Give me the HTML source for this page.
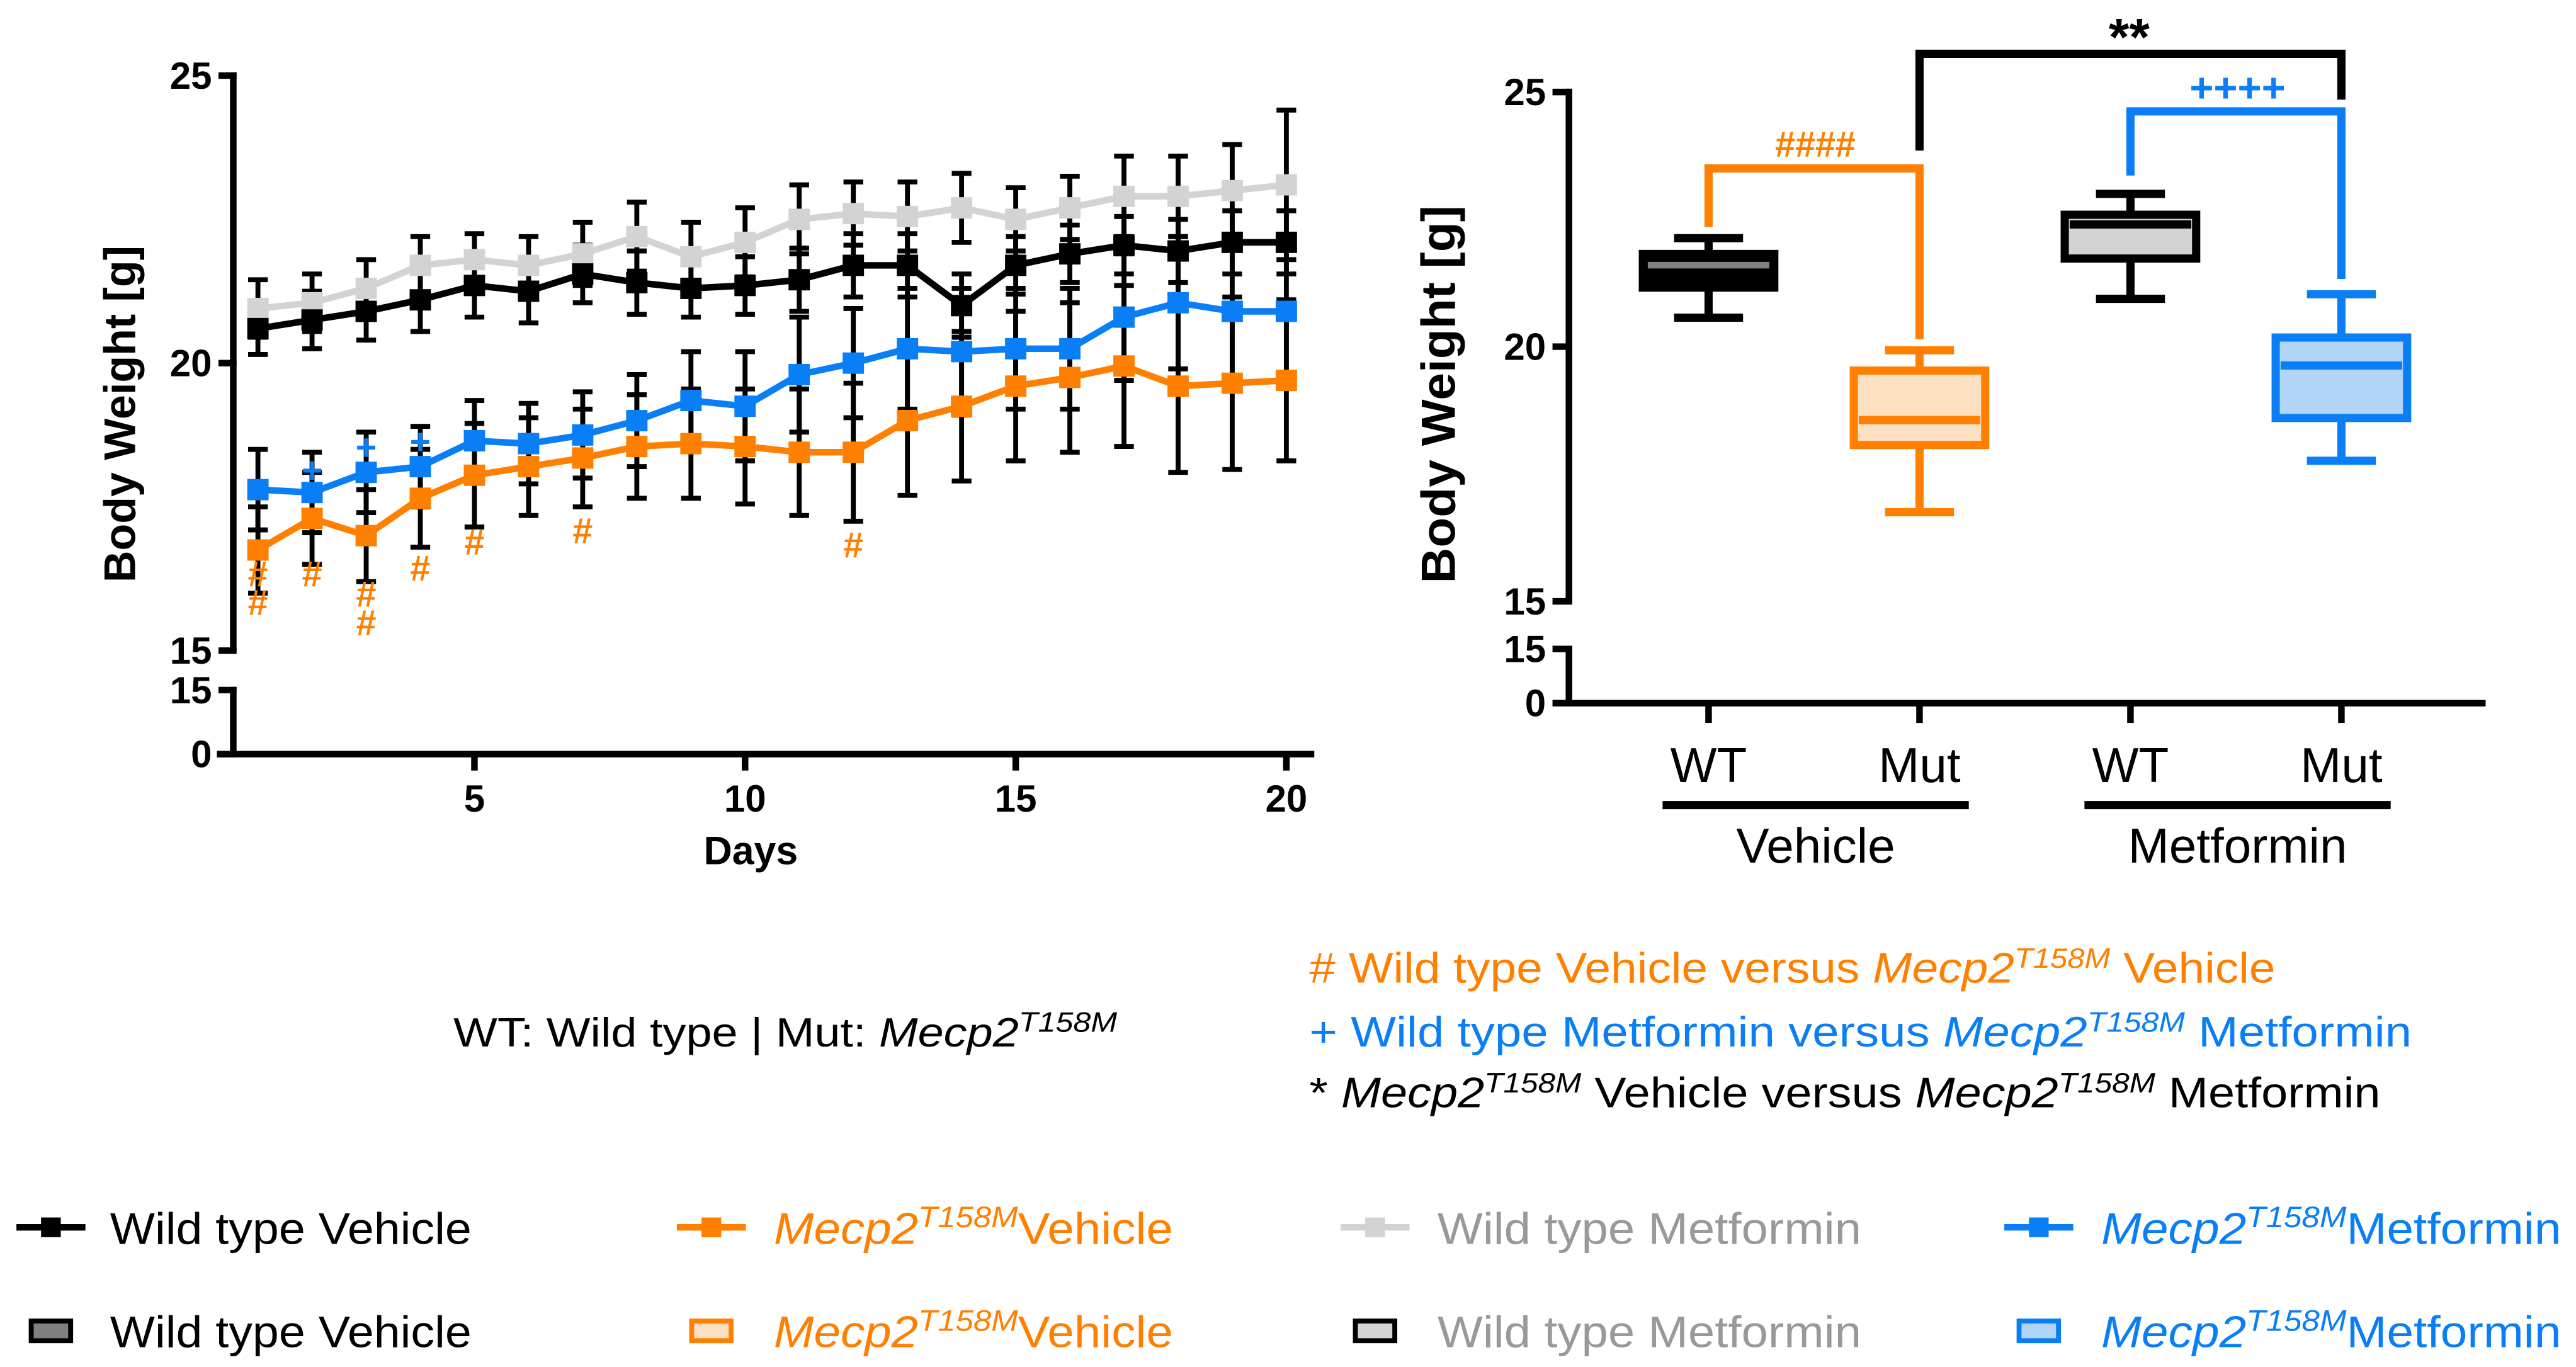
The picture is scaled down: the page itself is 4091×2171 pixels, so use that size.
<!DOCTYPE html>
<html><head><meta charset="utf-8"><style>
html,body{margin:0;padding:0;background:#fff;}
svg{display:block;}
text{font-family:"Liberation Sans",sans-serif;}
.nar{font-family:"Liberation Sans Narrow","Liberation Sans",sans-serif;}
</style></head><body>
<svg id="fig" width="4091" height="2171" viewBox="0 0 1568 832" preserveAspectRatio="none" xmlns="http://www.w3.org/2000/svg">
<g id="left"></g>
<g id="right"></g>
<text x="75" y="252" transform="rotate(-90 75 252)" text-anchor="middle" dominant-baseline="middle" font-weight="bold" font-size="27" textLength="205" lengthAdjust="spacingAndGlyphs">Body Weight [g]</text>
<text x="457" y="526" text-anchor="middle" font-weight="bold" font-size="24" class="nar">Days</text>
<text x="878" y="240" transform="rotate(-90 878 240)" text-anchor="middle" dominant-baseline="middle" font-weight="bold" font-size="29" textLength="230" lengthAdjust="spacingAndGlyphs">Body Weight [g]</text>

<text x="276" y="637" font-size="25" textLength="404" lengthAdjust="spacingAndGlyphs">WT: Wild type | Mut: <tspan font-style="italic">Mecp2</tspan><tspan font-style="italic" font-size="17" dy="-9">T158M</tspan></text>

<text x="797" y="598" font-size="26" fill="#ff8000" textLength="588" lengthAdjust="spacingAndGlyphs"># Wild type Vehicle versus <tspan font-style="italic">Mecp2</tspan><tspan font-style="italic" font-size="17" dy="-9">T158M</tspan><tspan dy="9"> Vehicle</tspan></text>
<text x="797" y="637" font-size="26" fill="#0a7ff5" textLength="671" lengthAdjust="spacingAndGlyphs">+ Wild type Metformin versus <tspan font-style="italic">Mecp2</tspan><tspan font-style="italic" font-size="17" dy="-9">T158M</tspan><tspan dy="9">  Metformin</tspan></text>
<text x="797" y="674" font-size="26" fill="#000" textLength="652" lengthAdjust="spacingAndGlyphs">* <tspan font-style="italic">Mecp2</tspan><tspan font-style="italic" font-size="17" dy="-9">T158M</tspan><tspan dy="9"> Vehicle versus </tspan><tspan font-style="italic">Mecp2</tspan><tspan font-style="italic" font-size="17" dy="-9">T158M</tspan><tspan dy="9"> Metformin</tspan></text>

<g id="legend">
 <g>
  <line x1="10" y1="747" x2="52" y2="747" stroke="#000" stroke-width="4"/><rect x="25" y="741" width="12" height="12" fill="#000"/>
  <text x="67" y="757" font-size="27" textLength="220" lengthAdjust="spacingAndGlyphs">Wild type Vehicle</text></g>
 <g>
  <line x1="412" y1="747" x2="454" y2="747" stroke="#ff8000" stroke-width="4"/><rect x="427" y="741" width="12" height="12" fill="#ff8000"/>
  <text x="471" y="757" font-size="27" fill="#ff8000" textLength="243" lengthAdjust="spacingAndGlyphs"><tspan font-style="italic">Mecp2</tspan><tspan font-style="italic" font-size="18" dy="-10">T158M</tspan><tspan dy="10">Vehicle</tspan></text></g>
 <g>
  <line x1="816" y1="747" x2="858" y2="747" stroke="#d3d3d3" stroke-width="4"/><rect x="831" y="741" width="12" height="12" fill="#d3d3d3"/>
  <text x="875" y="757" font-size="27" fill="#999" textLength="258" lengthAdjust="spacingAndGlyphs">Wild type Metformin</text></g>
 <g>
  <line x1="1220" y1="747" x2="1262" y2="747" stroke="#0a7ff5" stroke-width="4"/><rect x="1235" y="741" width="12" height="12" fill="#0a7ff5"/>
  <text x="1279" y="757" font-size="27" fill="#0a7ff5" textLength="280" lengthAdjust="spacingAndGlyphs"><tspan font-style="italic">Mecp2</tspan><tspan font-style="italic" font-size="18" dy="-10">T158M</tspan><tspan dy="10">Metformin</tspan></text></g>
 <g>
  <rect x="19" y="804" width="24" height="12" fill="#808080" stroke="#000" stroke-width="3"/>
  <text x="67" y="820" font-size="27" textLength="220" lengthAdjust="spacingAndGlyphs">Wild type Vehicle</text></g>
 <g>
  <rect x="421" y="804" width="24" height="12" fill="#fde0c2" stroke="#ff8000" stroke-width="3"/>
  <text x="471" y="820" font-size="27" fill="#ff8000" textLength="243" lengthAdjust="spacingAndGlyphs"><tspan font-style="italic">Mecp2</tspan><tspan font-style="italic" font-size="18" dy="-10">T158M</tspan><tspan dy="10">Vehicle</tspan></text></g>
 <g>
  <rect x="825" y="804" width="24" height="12" fill="#d3d3d3" stroke="#000" stroke-width="3"/>
  <text x="875" y="820" font-size="27" fill="#999" textLength="258" lengthAdjust="spacingAndGlyphs">Wild type Metformin</text></g>
 <g>
  <rect x="1229" y="804" width="24" height="12" fill="#b1d5f9" stroke="#0a7ff5" stroke-width="3"/>
  <text x="1279" y="820" font-size="27" fill="#0a7ff5" textLength="280" lengthAdjust="spacingAndGlyphs"><tspan font-style="italic">Mecp2</tspan><tspan font-style="italic" font-size="18" dy="-10">T158M</tspan><tspan dy="10">Metformin</tspan></text></g>
</g>
</svg>
<script>
const days = [1,2,3,4,5,6,7,8,9,10,11,12,13,14,15,16,17,18,19,20];
const wtVehicle = [20.6,20.75,20.9,21.1,21.35,21.25,21.55,21.4,21.3,21.35,21.45,21.7,21.7,21.0,21.7,21.9,22.05,21.95,22.1,22.1];
const wtVehicleErr = [0.45,0.5,0.5,0.55,0.55,0.55,0.5,0.55,0.5,0.5,0.55,0.55,0.55,0.55,0.5,0.5,0.5,0.55,0.55,0.55];
const wtMetformin = [20.95,21.05,21.3,21.7,21.8,21.7,21.9,22.2,21.85,22.1,22.5,22.6,22.55,22.7,22.5,22.7,22.9,22.9,23.0,23.1];
const wtMetforminErr = [0.5,0.5,0.5,0.5,0.45,0.5,0.55,0.6,0.6,0.6,0.6,0.55,0.6,0.6,0.55,0.55,0.7,0.7,0.8,1.3];
const mutMetformin = [17.8,17.75,18.1,18.2,18.65,18.6,18.75,19.0,19.35,19.25,19.8,20.0,20.25,20.2,20.25,20.25,20.8,21.05,20.9,20.9];
const mutMetforminErr = [0.7,0.7,0.7,0.7,0.7,0.7,0.75,0.8,0.85,0.95,1.0,0.95,1.05,1.1,1.05,1.05,1.1,1.15,1.15,1.1];
const mutVehicle = [16.75,17.3,17.0,17.65,18.05,18.2,18.35,18.55,18.6,18.55,18.45,18.45,19.0,19.25,19.6,19.75,19.95,19.6,19.65,19.7];
const mutVehicleErr = [0.75,0.8,0.8,0.85,0.9,0.85,0.85,0.9,0.95,1.0,1.1,1.2,1.3,1.3,1.3,1.3,1.4,1.5,1.5,1.4];
const xTicks = [5,10,15,20];
const yTicksTop = [15,20,25];
const hashDays = [1,1,2,3,3,4,5,7,12];
const hashVals = [16.35,15.85,16.35,16.0,15.5,16.45,16.9,17.1,16.85];
const plusDays = [2,3,4];
const plusVals = [18.15,18.55,18.65];

const groups = ["WT","Mut","WT","Mut"];
const boxMin = [20.57,16.75,20.94,17.76];
const boxQ1 = [21.16,18.07,21.73,18.60];
const boxMed = [21.6,18.56,22.40,19.63];
const boxQ3 = [21.82,19.53,22.59,20.18];
const boxMax = [22.13,19.93,23.0,21.03];
const groupLabels = ["Vehicle","Metformin"];

const NS="http://www.w3.org/2000/svg";
function mk(parent,tag,attrs,txt){const e=document.createElementNS(NS,tag);for(const k in attrs)e.setAttribute(k,attrs[k]);if(txt!==undefined)e.textContent=txt;parent.appendChild(e);return e;}

// ---------- left chart ----------
const L=document.getElementById('left');
const lx=d=>157+(d-1)*(783-157)/19;
const ly=v=>221-(v-20)*35;
let e;
e=mk(L,'line',{x1:142,y1:44,x2:142,y2:397,stroke:'#000','stroke-width':4});


e=mk(L,'line',{x1:142,y1:418,x2:142,y2:461,stroke:'#000','stroke-width':4});


e=mk(L,'line',{x1:132,y1:459,x2:800,y2:459,stroke:'#000','stroke-width':4});


yTicksTop.forEach(v=>{
 mk(L,'line',{x1:133,y1:ly(v),x2:144,y2:ly(v),stroke:'#000','stroke-width':4});
 e=mk(L,'text',{x:129,y:ly(v)+8,'text-anchor':'end','font-size':23,'font-weight':'bold',class:'nar'},String(v));
 
 
});
[[15,420],[0,459]].forEach(([v,y])=>{
 mk(L,'line',{x1:133,y1:y,x2:144,y2:y,stroke:'#000','stroke-width':4});
 e=mk(L,'text',{x:129,y:y+8,'text-anchor':'end','font-size':23,'font-weight':'bold',class:'nar'},String(v));
 
 
});
xTicks.forEach(d=>{
 mk(L,'line',{x1:lx(d),y1:459,x2:lx(d),y2:469,stroke:'#000','stroke-width':4});
 e=mk(L,'text',{x:lx(d),y:494,'text-anchor':'middle','font-size':23,'font-weight':'bold',class:'nar'},String(d));
 
 
});
const series=[
 {name:'wt-metformin',vals:wtMetformin,err:wtMetforminErr,color:'#d3d3d3'},
 {name:'mut-vehicle',vals:mutVehicle,err:mutVehicleErr,color:'#ff8000'},
 {name:'mut-metformin',vals:mutMetformin,err:mutMetforminErr,color:'#0a7ff5'},
 {name:'wt-vehicle',vals:wtVehicle,err:wtVehicleErr,color:'#000'}
];
series.forEach(s=>{
 const g=mk(L,'g',{});
 
 
 s.vals.forEach((v,i)=>{
  const x=lx(days[i]),t=ly(v+s.err[i]),b=ly(v-s.err[i]);
  mk(g,'line',{x1:x,y1:t,x2:x,y2:b,stroke:'#000','stroke-width':3});
  mk(g,'line',{x1:x-6,y1:t,x2:x+6,y2:t,stroke:'#000','stroke-width':3});
  mk(g,'line',{x1:x-6,y1:b,x2:x+6,y2:b,stroke:'#000','stroke-width':3});
 });
});
series.forEach(s=>{
 const g=mk(L,'g',{});
 
 
 const ln=mk(g,'polyline',{points:s.vals.map((v,i)=>lx(days[i])+','+ly(v)).join(' '),fill:'none',stroke:s.color,'stroke-width':4,'stroke-linejoin':'round'});
 
 
 s.vals.forEach((v,i)=>{
  const r=mk(g,'rect',{x:lx(days[i])-6.5,y:ly(v)-6.5,width:13,height:13,fill:s.color});
  
  
 });
});
hashDays.forEach((d,i)=>{
 e=mk(L,'text',{x:lx(d),y:ly(hashVals[i])+8,'text-anchor':'middle','font-size':22,'font-weight':'bold',fill:'#ff8000',class:'nar'},'#');
 
 
});
plusDays.forEach((d,i)=>{
 e=mk(L,'text',{x:lx(d),y:ly(plusVals[i])+8,'text-anchor':'middle','font-size':22,'font-weight':'bold',fill:'#0a7ff5'},'+');
 
 
});

// ---------- right chart ----------
const R=document.getElementById('right');
const rx=i=>1040+i*128.4;
const ry=v=>211-(v-20)*31;
e=mk(R,'line',{x1:955,y1:54,x2:955,y2:366,stroke:'#000','stroke-width':4});


e=mk(R,'line',{x1:955,y1:393,x2:955,y2:430,stroke:'#000','stroke-width':4});


e=mk(R,'line',{x1:946,y1:428,x2:1513,y2:428,stroke:'#000','stroke-width':4});


yTicksTop.forEach(v=>{
 mk(R,'line',{x1:945,y1:ry(v),x2:957,y2:ry(v),stroke:'#000','stroke-width':4});
 e=mk(R,'text',{x:941,y:ry(v)+8,'text-anchor':'end','font-size':23,'font-weight':'bold',class:'nar'},String(v));
 
 
});
[[15,395],[0,428]].forEach(([v,y])=>{
 mk(R,'line',{x1:945,y1:y,x2:957,y2:y,stroke:'#000','stroke-width':4});
 e=mk(R,'text',{x:941,y:y+8,'text-anchor':'end','font-size':23,'font-weight':'bold',class:'nar'},String(v));
 
 
});
const boxStroke=['#000','#ff8000','#000','#0a7ff5'];
const boxFill=['#000','#fde0c2','#d3d3d3','#b1d5f9'];
const medColor=['#808080','#ff8000','#000','#0a7ff5'];
groups.forEach((gname,i)=>{
 const x=rx(i);
 mk(R,'line',{x1:x,y1:428,x2:x,y2:440,stroke:'#000','stroke-width':4});
 e=mk(R,'text',{x:x,y:476,'text-anchor':'middle','font-size':30,class:'nar'},gname);
 
 
 const g=mk(R,'g',{});
 
 
 const c=boxStroke[i];
 mk(g,'line',{x1:x,y1:ry(boxMax[i]),x2:x,y2:ry(boxMin[i]),stroke:c,'stroke-width':5});
 mk(g,'line',{x1:x-21,y1:ry(boxMax[i]),x2:x+21,y2:ry(boxMax[i]),stroke:c,'stroke-width':5});
 mk(g,'line',{x1:x-21,y1:ry(boxMin[i]),x2:x+21,y2:ry(boxMin[i]),stroke:c,'stroke-width':5});
 mk(g,'rect',{x:x-40,y:ry(boxQ3[i]),width:80,height:ry(boxQ1[i])-ry(boxQ3[i]),fill:boxFill[i],stroke:c,'stroke-width':5});
 mk(g,'line',{x1:x-37,y1:ry(boxMed[i]),x2:x+37,y2:ry(boxMed[i]),stroke:medColor[i],'stroke-width':i===0?4:5});
});
groupLabels.forEach((t,j)=>{
 const xa=rx(2*j)-28,xb=rx(2*j+1)+30;
 e=mk(R,'line',{x1:xa,y1:490,x2:xb,y2:490,stroke:'#000','stroke-width':5});
 
 
 e=mk(R,'text',{x:(xa+xb)/2,y:525,'text-anchor':'middle','font-size':30,class:'nar'},t);
 
 
});
e=mk(R,'polyline',{points:`${rx(0)},${ry(22.35)} ${rx(0)},${ry(23.5)} ${rx(1)},${ry(23.5)} ${rx(1)},${ry(20.15)}`,fill:'none',stroke:'#ff8000','stroke-width':5});


e=mk(R,'text',{x:1105,y:ry(23.99)+8,'text-anchor':'middle','font-size':22,'font-weight':'bold',fill:'#ff8000'},'####');


e=mk(R,'polyline',{points:`${rx(2)},${ry(23.36)} ${rx(2)},${ry(24.62)} ${rx(3)},${ry(24.62)} ${rx(3)},${ry(21.33)}`,fill:'none',stroke:'#0a7ff5','stroke-width':5});


e=mk(R,'text',{x:1362,y:ry(25.07)+8,'text-anchor':'middle','font-size':25,'font-weight':'bold',fill:'#0a7ff5'},'++++');


e=mk(R,'polyline',{points:`${rx(1)},${ry(23.85)} ${rx(1)},${ry(25.75)} ${rx(3)},${ry(25.75)} ${rx(3)},${ry(24.85)}`,fill:'none',stroke:'#000','stroke-width':5});


e=mk(R,'text',{x:1296,y:ry(26.24)+16,'text-anchor':'middle','font-size':32,'font-weight':'bold'},'**');


</script>
</body></html>
